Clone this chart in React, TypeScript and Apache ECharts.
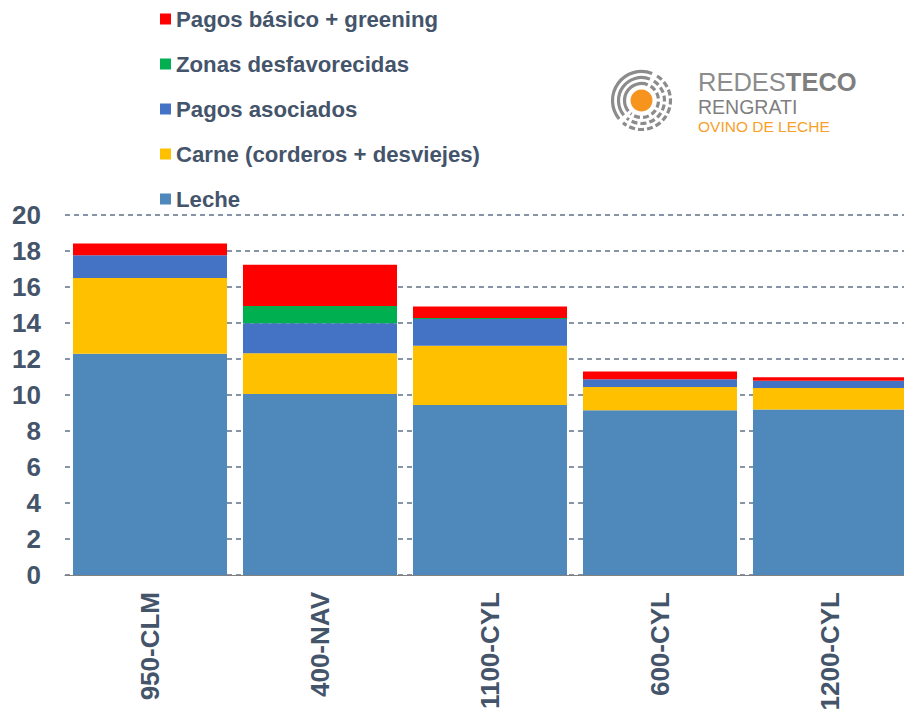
import React, { useEffect, useRef } from "react";
import * as echarts from "echarts";

const categories = ["950-CLM", "400-NAV", "1100-CYL", "600-CYL", "1200-CYL"];
const leche = [12.29, 10.06, 9.44, 9.15, 9.19];
const carne = [4.21, 2.26, 3.3, 1.29, 1.2];
const pagosAsociados = [1.26, 1.66, 1.48, 0.43, 0.4];
const zonasDesfavorecidas = [0, 0.96, 0.06, 0, 0];
const pagosBasico = [0.65, 2.3, 0.63, 0.43, 0.19];

const seriesNames = [
  "Leche",
  "Carne (corderos + desviejes)",
  "Pagos asociados",
  "Zonas desfavorecidas",
  "Pagos básico + greening",
];
const legendOrder = [
  "Pagos básico + greening",
  "Zonas desfavorecidas",
  "Pagos asociados",
  "Carne (corderos + desviejes)",
  "Leche",
];
const colors = ["#4f88bb", "#ffc000", "#4472c4", "#00b050", "#ff0000"];
const yTicks = { min: 0, max: 20, interval: 2 };

const FONT = "'Liberation Sans', Arial, sans-serif";
const TEXT = "#44546a";

export default function App() {
  const ref = useRef<HTMLDivElement>(null);
  useEffect(() => {
    if (!ref.current) return;
    const chart = echarts.init(ref.current, undefined, { renderer: "svg" });
    const values = [leche, carne, pagosAsociados, zonasDesfavorecidas, pagosBasico];
    const cx = 641.5;
    const cy = 100.5;
    const radii = [17, 23, 29];
    const arcs: any[] = [];
    radii.forEach((r) => {
      arcs.push({
        type: "arc",
        shape: { cx, cy, r, startAngle: Math.PI * 0.78, endAngle: Math.PI * 1.62 },
        style: { stroke: "#8c8c8c", lineWidth: 3.2, fill: null },
      });
      arcs.push({
        type: "arc",
        shape: { cx, cy, r, startAngle: Math.PI * 1.68, endAngle: Math.PI * 2.72 },
        style: { stroke: "#8c8c8c", lineWidth: 3.2, fill: null, lineDash: [6, 3] },
      });
    });
    chart.setOption({
      animation: false,
      textStyle: { fontFamily: FONT },
      legend: {
        orient: "vertical",
        left: 160,
        top: 8,
        padding: 0,
        itemWidth: 11,
        itemHeight: 11,
        itemGap: 23,
        icon: "rect",
        data: legendOrder,
        selectedMode: false,
        textStyle: {
          fontSize: 22.2,
          fontWeight: "bold",
          color: TEXT,
          fontFamily: FONT,
          lineHeight: 22,
        },
      },
      grid: { left: 65, right: 5, top: 215, bottom: 142, containLabel: false },
      xAxis: {
        type: "category",
        data: categories,
        axisLine: { lineStyle: { color: "#808080", width: 1 } },
        axisTick: { length: 8, lineStyle: { color: "#808080" } },
        axisLabel: {
          rotate: 90,
          fontSize: 26,
          fontWeight: "bold",
          color: TEXT,
          margin: 17,
          fontFamily: FONT,
        },
      },
      yAxis: {
        type: "value",
        min: yTicks.min,
        max: yTicks.max,
        interval: yTicks.interval,
        axisLine: { show: false },
        axisTick: { show: false },
        axisLabel: {
          fontSize: 26,
          fontWeight: "bold",
          color: TEXT,
          margin: 24,
          fontFamily: FONT,
        },
        splitLine: {
          lineStyle: { color: "#8794a6", type: [5, 4], width: 2 },
        },
      },
      series: seriesNames.map((name, i) => ({
        name,
        type: "bar",
        stack: "total",
        barCategoryGap: "9.4%",
        data: values[i],
        itemStyle: { color: colors[i] },
      })),
      graphic: [
        ...arcs,
        {
          type: "circle",
          shape: { cx, cy, r: 11 },
          style: { fill: "#f7941d" },
        },
        {
          type: "text",
          x: 698,
          y: 82,
          style: {
            text: "{a|REDES}{b|TECO}",
            verticalAlign: "middle",
            rich: {
              a: { fontSize: 25.5, fill: "#8c8c8c", fontFamily: FONT },
              b: { fontSize: 25.5, fill: "#7f7f7f", fontWeight: "bold", fontFamily: FONT },
            },
          },
        },
        {
          type: "text",
          x: 698,
          y: 107,
          style: {
            text: "RENGRATI",
            fontSize: 19.5,
            fill: "#7f7f7f",
            fontFamily: FONT,
            verticalAlign: "middle",
          },
        },
        {
          type: "text",
          x: 698,
          y: 126,
          style: {
            text: "OVINO DE LECHE",
            fontSize: 15.5,
            fill: "#f7a12b",
            fontFamily: FONT,
            verticalAlign: "middle",
          },
        },
      ],
    });
    return () => chart.dispose();
  }, []);
  return (
    <div
      style={{
        position: "fixed",
        left: 0,
        top: 0,
        width: 904,
        height: 717,
        overflow: "hidden",
        background: "#fff",
      }}
    >
      <div ref={ref} style={{ width: 920, height: 717 }} />
    </div>
  );
}
